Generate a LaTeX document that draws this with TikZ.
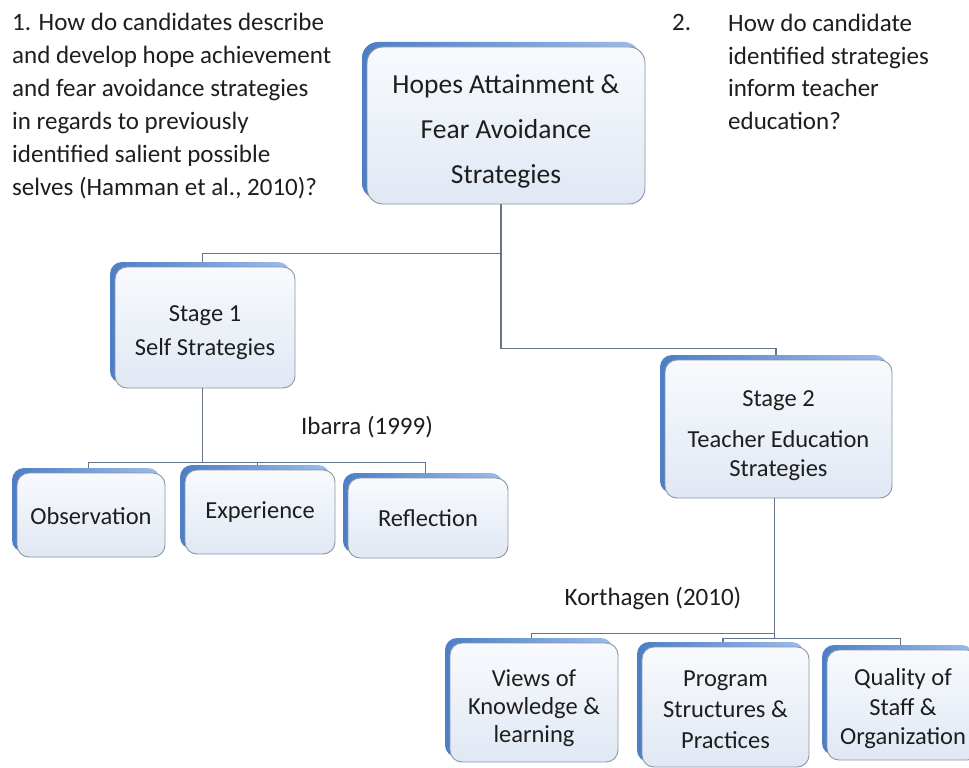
\documentclass[tikz,border=0pt]{standalone}
\usepackage{fontspec}
\setmainfont{Carlito}
\usetikzlibrary{shadows}

\definecolor{edgedark}{HTML}{4D7EC6}
\definecolor{edgelight}{HTML}{9ABCEB}
\definecolor{facetop}{HTML}{F8FAFD}
\definecolor{facebot}{HTML}{E0E8F4}
\definecolor{facerim}{HTML}{8C96A5}
\definecolor{linkgray}{HTML}{66748A}
\definecolor{inktext}{HTML}{1E1E1E}

% raise the first line's height so the text block sits lower in its box
\newcommand{\toplift}[1]{\rule{0pt}{#1}}

\tikzset{
  box/.style={rectangle, rounded corners=12pt, draw=facerim, line width=0.9pt,
    top color=facetop, bottom color=facebot, inner sep=0pt, align=center,
    text=inktext, font=\fontsize{24.5}{29}\selectfont,
    general shadow={shadow xshift=-5pt, shadow yshift=5pt, draw=none,
      left color=edgedark, right color=edgelight}},
  link/.style={draw=linkgray, line width=1.4pt},
  plain/.style={text=inktext, inner sep=0pt, font=\fontsize{25}{33}\selectfont}
}

\begin{document}
\begin{tikzpicture}[x=1pt,y=-1pt]
\clip (0,0) rectangle (969,768);
\fill[white] (0,0) rectangle (969,768);

% research questions
\node[plain, anchor=north west, align=left] (q1) at (12,13)
  {1. How do candidates describe\\and develop hope achievement\\and fear avoidance strategies\\in regards to previously\\identified salient possible\\selves (Hamman et al., 2010)?};
\node[plain, anchor=north west] (q2num) at (672,14) {2.};
\node[plain, anchor=north west, align=left, font=\fontsize{25}{32.5}\selectfont] (q2) at (728,14)
  {How do candidate\\identified strategies\\inform teacher\\education?};

% boxes
\node[box, rounded corners=16pt, minimum width=278pt, minimum height=157pt,
      font=\fontsize{27.5}{45}\selectfont] (top) at (506,125.5)
  {\toplift{30pt}Hopes Attainment \&\\Fear Avoidance\\Strategies};
\node[box, minimum width=180pt, minimum height=121pt, font=\fontsize{24.5}{34}\selectfont]
  (stage1) at (205,327.5) {\toplift{27pt}Stage 1\\Self Strategies};
\node[box, minimum width=227pt, minimum height=138pt] (stage2) at (778.5,429)
  {\toplift{29pt}Stage 2\\[12pt]Teacher Education\\Strategies};

\node[box, minimum width=148pt, minimum height=84pt] (obs) at (91,515) {\toplift{20pt}Observation};
\node[box, minimum width=150pt, minimum height=84pt] (exp) at (260,512) {Experience};
\node[box, minimum width=160pt, minimum height=80pt] (refl) at (428,518) {Reflection};

\node[box, minimum width=168pt, minimum height=119pt, font=\fontsize{24.5}{28}\selectfont]
  (views) at (534,702.5) {\toplift{29pt}Views of\\Knowledge \&\\learning};
\node[box, minimum width=167pt, minimum height=120pt, font=\fontsize{24.5}{31}\selectfont]
  (prog) at (725.5,707) {\toplift{21pt}Program\\Structures \&\\Practices};
\node[box, minimum width=152pt, minimum height=110pt, font=\fontsize{24.5}{29.5}\selectfont]
  (qual) at (903,705) {\toplift{25pt}Quality of\\Staff \&\\Organization};

% source labels
\node[plain] (ibarra) at (367,427) {Ibarra (1999)};
\node[plain] (korth) at (653,598) {Korthagen (2010)};

% connectors
\draw[link] ([xshift=-5pt]top.south) -- ++(0,49) coordinate (hub)
  -| ([xshift=-2.5pt,yshift=5pt]stage1.north);
\draw[link] (hub) -- ++(0,95) -| ([xshift=-2.5pt,yshift=5pt]stage2.north);

\draw[link] ([xshift=-2.5pt]stage1.south) -- ++(0,74) coordinate (s1bus)
  -| ([xshift=-2.5pt,yshift=5pt]obs.north);
\draw[link] (s1bus) -| ([xshift=-2.5pt,yshift=5pt]exp.north);
\draw[link] (s1bus) -| ([xshift=-2.5pt,yshift=5pt]refl.north);

\draw[link] ([xshift=-4pt]stage2.south) -- ++(0,135)
  -| ([xshift=-2.5pt,yshift=5pt]views.north);
\draw[link] ([xshift=-4pt]stage2.south) -- ++(0,140) coordinate (s2bus)
  -| ([xshift=-2.5pt,yshift=5pt]prog.north);
\draw[link] (s2bus) -| ([xshift=-2.5pt,yshift=5pt]qual.north);
\end{tikzpicture}
\end{document}
